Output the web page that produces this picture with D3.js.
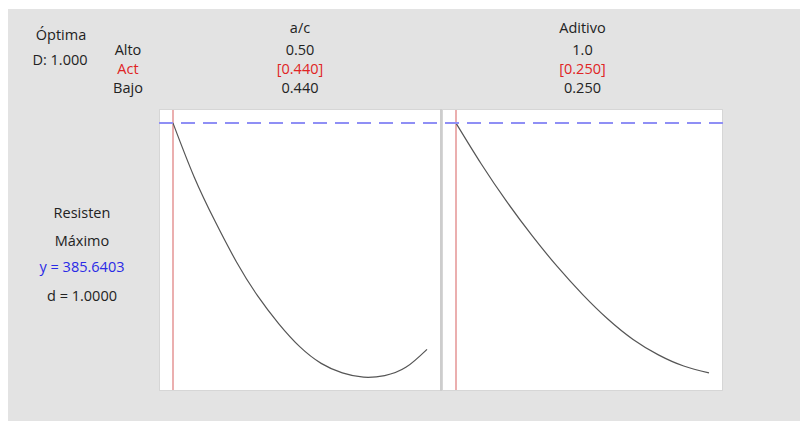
<!DOCTYPE html>
<html>
<head>
<meta charset="utf-8">
<script src="https://cdn.jsdelivr.net/npm/d3@7"></script>
<style>
  body { margin: 0; background: #fff; }
  svg { display: block; font-family: "Open Sans", "Noto Sans", sans-serif; }
</style>
</head>
<body>
<script>
// factor names and settings
var factors = ["a/c", "Aditivo"];
var altoLabels = ["0.50", "1.0"];
var actLabels = ["[0.440]", "[0.250]"];
var bajoLabels = ["0.440", "0.250"];
var lows = [0.44, 0.25];
var highs = [0.50, 1.0];
var current = [0.44, 0.25];

// response along a/c (others held at current)
var acX = [0.440, 0.445, 0.450, 0.455, 0.460, 0.465, 0.470, 0.475, 0.480, 0.485, 0.490, 0.495, 0.500];
var acY = [385.6, 365.3, 348.4, 333.3, 320.5, 310.0, 301.3, 295.1, 291.5, 289.9, 290.5, 293.6, 300.4];

// response along Aditivo
var adX = [0.250, 0.325, 0.400, 0.475, 0.550, 0.625, 0.700, 0.775, 0.850, 0.925, 1.000];
var adY = [385.6, 370.2, 356.1, 343.3, 331.6, 321.1, 311.8, 304.1, 298.3, 294.1, 291.5];

var yTarget = 385.6403;
var yDomain = [284.7, 390.9];

var W = 800, H = 421;
var fs = 14.5;
var svg = d3.select("body").append("svg").attr("width", W).attr("height", H);

svg.append("rect").attr("x", 8).attr("y", 9).attr("width", W - 8).attr("height", H - 9).attr("fill", "#e3e3e3");

var pTop = 109, pBottom = 391;
var panels = [{ x0: 159, x1: 441 }, { x0: 442, x1: 723 }];
var pad = 14;

var y = d3.scaleLinear().domain(yDomain).range([pBottom, pTop]);

var series = [
  { xs: acX, ys: acY },
  { xs: adX, ys: adY }
];

function label(x, yy, s, color) {
  svg.append("text").attr("x", x).attr("y", yy).attr("text-anchor", "middle")
    .attr("font-size", fs).attr("fill", color || "#222").text(s);
}

// left labels
label(61, 40, "Óptima");
label(60, 65, "D: 1.000");
label(128, 55, "Alto");
label(128, 74, "Act", "#e02424");
label(128, 93, "Bajo");

label(82, 218, "Resisten");
label(82, 246, "Máximo");
label(82, 272, "y = " + yTarget.toFixed(4), "#2a2ae6");
label(82, 301, "d = 1.0000");

panels.forEach(function(p, i) {
  var x = d3.scaleLinear().domain([lows[i], highs[i]]).range([p.x0 + pad, p.x1 - pad]);
  var cx = (p.x0 + p.x1) / 2;

  label(cx, 33, factors[i]);
  label(cx, 55, altoLabels[i]);
  label(cx, 74, actLabels[i], "#e02424");
  label(cx, 93, bajoLabels[i]);

  svg.append("rect").attr("x", p.x0 + 0.5).attr("y", pTop + 0.5).attr("width", p.x1 - p.x0 - 1).attr("height", pBottom - pTop - 1)
    .attr("fill", "#fff").attr("stroke", "#d6d6d6");

  svg.append("line").attr("x1", x(current[i])).attr("x2", x(current[i])).attr("y1", pTop + 1).attr("y2", pBottom - 1)
    .attr("stroke", "#e59595").attr("stroke-width", 1.5);

  var pts = series[i].xs.map(function(v, k) { return [v, series[i].ys[k]]; });
  var line = d3.line().x(function(d) { return x(d[0]); }).y(function(d) { return y(d[1]); }).curve(d3.curveNatural);
  svg.append("path").datum(pts).attr("d", line).attr("fill", "none").attr("stroke", "#555").attr("stroke-width", 1.2);
});

// divider between panels
svg.append("line").attr("x1", 441).attr("x2", 441).attr("y1", pTop).attr("y2", pBottom).attr("stroke", "#cdcdcd").attr("stroke-width", 2);

// target line
svg.append("line").attr("x1", panels[0].x0).attr("x2", panels[1].x1).attr("y1", y(yTarget)).attr("y2", y(yTarget))
  .attr("stroke", "#8f8ff5").attr("stroke-width", 2).attr("stroke-dasharray", "14,8");
</script>
</body>
</html>
